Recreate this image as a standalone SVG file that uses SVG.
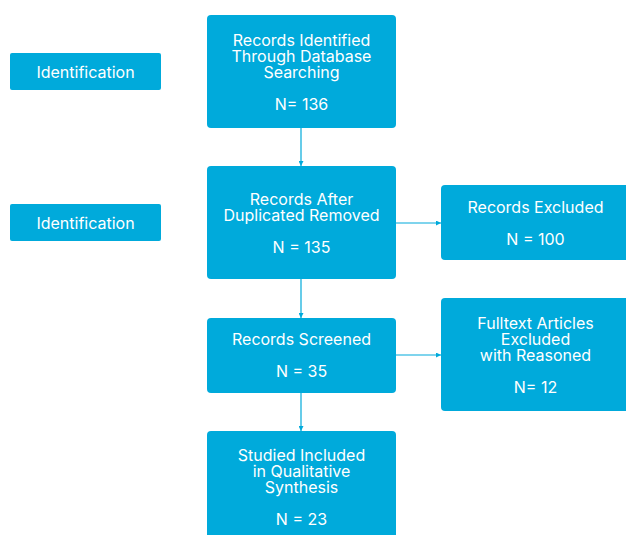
<svg xmlns="http://www.w3.org/2000/svg" width="626" height="535" viewBox="0 0 626 535">
<defs>
<style>
.box{fill:#00AADB;}
.t{fill:#ffffff;font-family:Inter,"Noto Sans",sans-serif;font-size:16px;text-anchor:middle;}
.c{stroke:#00AADB;stroke-width:1.2;fill:none;marker-end:url(#ah);}
</style>
<marker id="ah" viewBox="0 0 8 8" refX="8" refY="4" markerWidth="5" markerHeight="5" orient="auto" markerUnits="userSpaceOnUse">
<path d="M0,0 L8,4 L0,8 z" fill="#00AADB"/>
</marker>
</defs>
<rect width="626" height="535" fill="#ffffff"/>
<g id="connectors">
<line class="c" x1="301" y1="128" x2="301" y2="166"/>
<line class="c" x1="301" y1="279" x2="301" y2="318"/>
<line class="c" x1="301" y1="393" x2="301" y2="431"/>
<line class="c" x1="396" y1="223" x2="441" y2="223"/>
<line class="c" x1="396" y1="355" x2="441" y2="355"/>
</g>
<g id="id1">
<rect class="box" x="10" y="53" width="151" height="37" rx="2"/>
<text class="t" x="85.5" y="78">Identification</text>
</g>
<g id="id2">
<rect class="box" x="10" y="204" width="151" height="37" rx="2"/>
<text class="t" x="85.5" y="229">Identification</text>
</g>
<g id="n1">
<rect class="box" x="207" y="15" width="189" height="113" rx="4"/>
<text class="t" x="301.5" y="46">Records Identified</text>
<text class="t" x="301.5" y="62">Through Database</text>
<text class="t" x="301.5" y="78">Searching</text>
<text class="t" x="301.5" y="110">N= 136</text>
</g>
<g id="n2">
<rect class="box" x="207" y="166" width="189" height="113" rx="4"/>
<text class="t" x="301.5" y="205">Records After</text>
<text class="t" x="301.5" y="221">Duplicated Removed</text>
<text class="t" x="301.5" y="253">N = 135</text>
</g>
<g id="n3">
<rect class="box" x="207" y="318" width="189" height="75" rx="4"/>
<text class="t" x="301.5" y="345">Records Screened</text>
<text class="t" x="301.5" y="377">N = 35</text>
</g>
<g id="n4">
<rect class="box" x="207" y="431" width="189" height="110" rx="4"/>
<text class="t" x="301.5" y="461">Studied Included</text>
<text class="t" x="301.5" y="477">in Qualitative</text>
<text class="t" x="301.5" y="493">Synthesis</text>
<text class="t" x="301.5" y="525">N = 23</text>
</g>
<g id="r1">
<rect class="box" x="441" y="185" width="189" height="75" rx="4"/>
<text class="t" x="535.5" y="213">Records Excluded</text>
<text class="t" x="535.5" y="245">N = 100</text>
</g>
<g id="r2">
<rect class="box" x="441" y="298" width="189" height="113" rx="4"/>
<text class="t" x="535.5" y="329">Fulltext Articles</text>
<text class="t" x="535.5" y="345">Excluded</text>
<text class="t" x="535.5" y="361">with Reasoned</text>
<text class="t" x="535.5" y="393">N= 12</text>
</g>
</svg>
